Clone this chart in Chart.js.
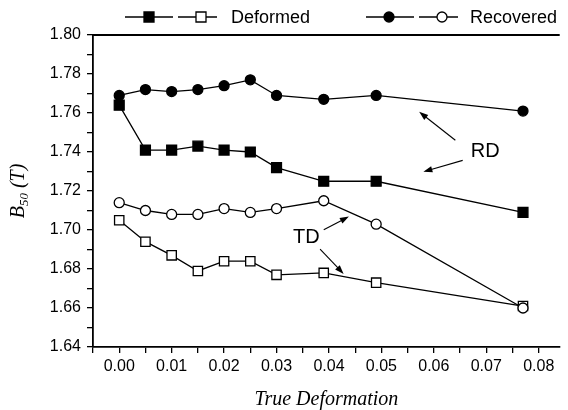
<!DOCTYPE html>
<html>
<head>
<meta charset="utf-8">
<script src="https://cdn.jsdelivr.net/npm/chart.js@4"></script>
<style>
  html, body { margin: 0; padding: 0; background: #fff; }
  #wrap { width: 568px; height: 410px; }
</style>
</head>
<body>
<div id="wrap"><canvas id="c" width="568" height="410"></canvas></div>
<script>
// --- data ---
const deformation = [0, 0.005, 0.01, 0.015, 0.02, 0.025, 0.03, 0.039, 0.049, 0.077];
const deformedRD  = [1.764, 1.741, 1.741, 1.743, 1.741, 1.740, 1.732, 1.725, 1.725, 1.709];
const deformedTD  = [1.705, 1.694, 1.687, 1.679, 1.684, 1.684, 1.677, 1.678, 1.673, 1.661];
const recoveredRD = [1.769, 1.772, 1.771, 1.772, 1.774, 1.777, 1.769, 1.767, 1.769, 1.761];
const recoveredTD = [1.714, 1.710, 1.708, 1.708, 1.711, 1.709, 1.711, 1.715, 1.703, 1.660];

// ticks (in thousandths / hundredths to avoid float noise)
const xTickVals = [-5, 0, 5, 10, 15, 20, 25, 30, 35, 40, 45, 50, 55, 60, 65, 70, 75, 80].map(v => v / 1000);
const yTickVals = [164, 165, 166, 167, 168, 169, 170, 171, 172, 173, 174, 175, 176, 177, 178, 179, 180].map(v => v / 100);

// annotation arrows: [label, textX, textY, [[tailX, tailY, headX, headY], ...]]
const notes = [
  ['RD', 0.0698, 1.7402, [[0.0641, 1.7460, 0.0572, 1.7606], [0.0655, 1.7357, 0.0580, 1.7299]]],
  ['TD', 0.0357, 1.6963, [[0.0390, 1.7001, 0.0438, 1.7069], [0.0383, 1.6902, 0.0428, 1.6775]]],
];

const SANS = '"Liberation Sans", Arial, sans-serif';
const SERIF = '"Liberation Serif", "Times New Roman", serif';

const pts = ys => deformation.map((x, i) => ({ x, y: ys[i] }));

function series(label, ys, style, filled, r) {
  return {
    label, data: pts(ys), showLine: true,
    borderColor: '#000', borderWidth: 1.3,
    pointStyle: style, pointRadius: r, pointHoverRadius: r,
    pointBackgroundColor: filled ? '#000' : '#fff',
    pointBorderColor: '#000', pointBorderWidth: 1.3,
  };
}

// arrow helper
function arrow(ctx, x1, y1, x2, y2) {
  const a = Math.atan2(y2 - y1, x2 - x1), L = 9, W = 3.2;
  ctx.beginPath(); ctx.moveTo(x1, y1);
  ctx.lineTo(x2 - L * 0.8 * Math.cos(a), y2 - L * 0.8 * Math.sin(a)); ctx.stroke();
  ctx.beginPath();
  ctx.moveTo(x2, y2);
  ctx.lineTo(x2 - L * Math.cos(a) + W * Math.sin(a), y2 - L * Math.sin(a) - W * Math.cos(a));
  ctx.lineTo(x2 - L * Math.cos(a) - W * Math.sin(a), y2 - L * Math.sin(a) + W * Math.cos(a));
  ctx.closePath(); ctx.fill();
}

function marker(ctx, kind, filled, x, y) {
  ctx.fillStyle = filled ? '#000' : '#fff';
  ctx.beginPath();
  if (kind === 'rect') ctx.rect(x - 5, y - 5, 10, 10);
  else ctx.arc(x, y, 5, 0, Math.PI * 2);
  ctx.fill(); ctx.stroke();
}

const extras = {
  id: 'extras',
  afterDraw(chart) {
    const { ctx, chartArea: a, scales: { x, y } } = chart;
    ctx.save();
    ctx.strokeStyle = '#000'; ctx.fillStyle = '#000';

    // top frame line
    ctx.lineWidth = 1.8;
    ctx.beginPath(); ctx.moveTo(a.left, a.top); ctx.lineTo(a.right, a.top); ctx.stroke();

    // annotations
    ctx.lineWidth = 1.1;
    ctx.font = '20px ' + SANS; ctx.textAlign = 'center'; ctx.textBaseline = 'middle';
    notes.forEach(([txt, tx, ty, arrows]) => {
      ctx.fillText(txt, x.getPixelForValue(tx), y.getPixelForValue(ty));
      arrows.forEach(([x1, y1, x2, y2]) => arrow(ctx,
        x.getPixelForValue(x1), y.getPixelForValue(y1),
        x.getPixelForValue(x2), y.getPixelForValue(y2)));
    });

    // legend
    ctx.lineWidth = 1.3;
    const ly = 17;
    const seg = (x1, x2) => { ctx.beginPath(); ctx.moveTo(x1, ly); ctx.lineTo(x2, ly); ctx.stroke(); };
    seg(125, 173); marker(ctx, 'rect', true, 149, ly);
    seg(178, 217); marker(ctx, 'rect', false, 201, ly);
    seg(366, 414); marker(ctx, 'circle', true, 389, ly);
    seg(419, 458); marker(ctx, 'circle', false, 442, ly);
    ctx.fillStyle = '#000';
    ctx.font = '18px ' + SANS; ctx.textAlign = 'left'; ctx.textBaseline = 'middle';
    ctx.fillText('Deformed', 231, ly + 1);
    ctx.fillText('Recovered', 470, ly + 1);

    // x title
    ctx.font = 'italic 20px ' + SERIF; ctx.textAlign = 'center'; ctx.textBaseline = 'alphabetic';
    ctx.fillText('True Deformation', (a.left + a.right) / 2, 405);

    // y title with subscript
    ctx.translate(24, (a.top + a.bottom) / 2);
    ctx.rotate(-Math.PI / 2);
    const fB = 'italic 20px ' + SERIF, fS = 'italic 13px ' + SERIF;
    ctx.font = fB; const wB = ctx.measureText('B').width, wT = ctx.measureText(' (T)').width;
    ctx.font = fS; const wS = ctx.measureText('50').width;
    let cx = -(wB + wS + wT) / 2;
    ctx.textAlign = 'left';
    ctx.font = fB; ctx.fillText('B', cx, 0); cx += wB;
    ctx.font = fS; ctx.fillText('50', cx, 4); cx += wS;
    ctx.font = fB; ctx.fillText(' (T)', cx, 0);
    ctx.restore();
  }
};

new Chart(document.getElementById('c'), {
  type: 'scatter',
  data: {
    datasets: [
      series('Recovered RD', recoveredRD, 'circle', true, 5),
      series('Recovered TD', recoveredTD, 'circle', false, 5),
      series('Deformed RD', deformedRD, 'rect', true, 7),
      series('Deformed TD', deformedTD, 'rect', false, 6.6),
    ]
  },
  options: {
    responsive: false, animation: false,
    layout: { padding: { top: 35, right: 0, left: 0, bottom: 0 } },
    plugins: { legend: { display: false }, tooltip: { enabled: false } },
    elements: { line: { tension: 0 } },
    scales: {
      x: {
        type: 'linear', min: -0.005, max: 0.084,
        afterBuildTicks: s => { s.ticks = xTickVals.map(value => ({ value })); },
        afterFit: s => { s.height = 63; },
        grid: { drawOnChartArea: false, drawTicks: true, tickLength: 6, color: '#000', lineWidth: 1.3 },
        border: { display: true, color: '#000', width: 1.8 },
        ticks: {
          color: '#000', font: { family: SANS, size: 16 }, padding: 4,
          autoSkip: false, maxRotation: 0,
          callback: v => (Math.round(v * 1000) % 10 === 0 && v >= 0) ? v.toFixed(2) : ''
        }
      },
      y: {
        type: 'linear', min: 1.64, max: 1.80,
        afterBuildTicks: s => { s.ticks = yTickVals.map(value => ({ value })); },
        afterFit: s => { s.width = 93; },
        grid: { drawOnChartArea: false, drawTicks: true, tickLength: 6, color: '#000', lineWidth: 1.3 },
        border: { display: true, color: '#000', width: 1.8 },
        ticks: {
          color: '#000', font: { family: SANS, size: 16 }, padding: 6,
          autoSkip: false,
          callback: v => (Math.round(v * 100) % 2 === 0) ? v.toFixed(2) : ''
        }
      }
    }
  },
  plugins: [extras]
});
</script>
</body>
</html>
